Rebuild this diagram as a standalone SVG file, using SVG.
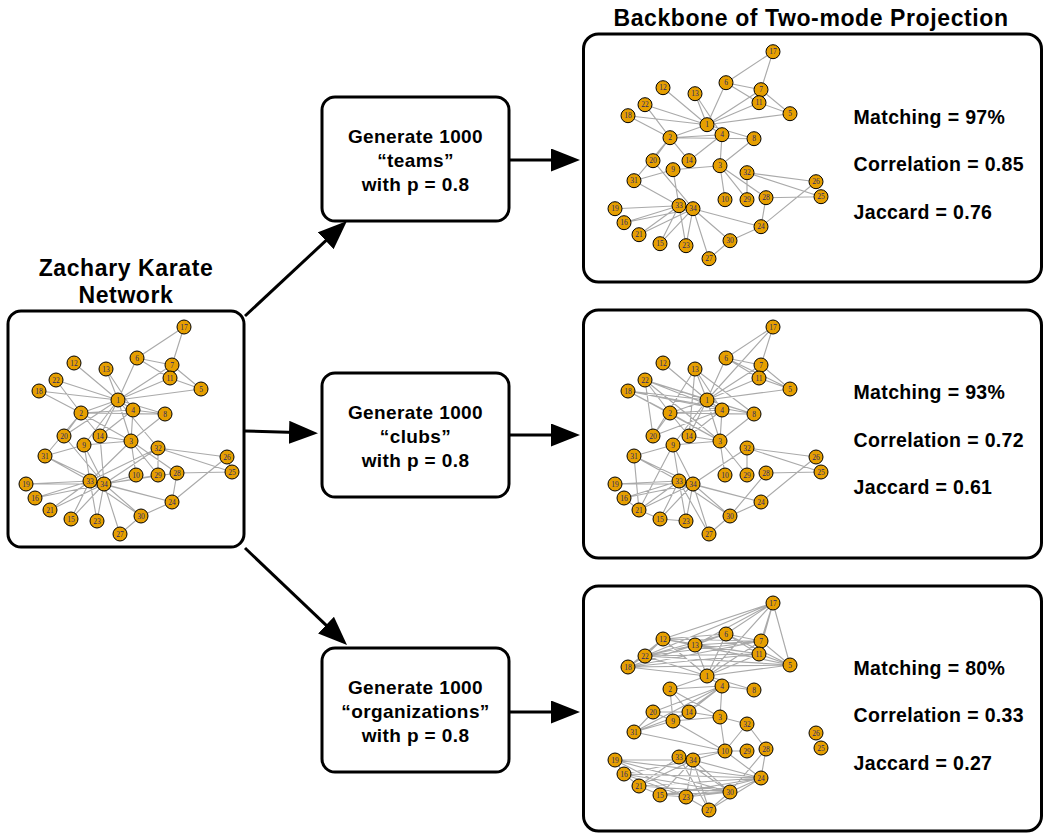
<svg xmlns="http://www.w3.org/2000/svg" width="1044" height="834" viewBox="0 0 1044 834">
<defs>
<style>
.box{fill:#fff;stroke:#000;stroke-width:3}
.e{fill:none;stroke:#aaaaaa;stroke-width:1.15}
.ar{fill:none;stroke:#000;stroke-width:3;marker-end:url(#ah)}
.n circle{fill:#E69F00;stroke:#000;stroke-width:1}
.n text{font-family:"Liberation Serif","Times New Roman",serif;font-size:7.5px;fill:#27276a;text-anchor:middle}
.t{font-family:"Liberation Sans",Arial,Helvetica,sans-serif;font-weight:bold;fill:#000}
.h{font-size:23px;letter-spacing:0.6px;text-anchor:middle}
.g{font-size:19px;letter-spacing:0.4px;text-anchor:middle}
.m{font-size:19.5px;letter-spacing:0.35px}
</style>
<marker id="ah" markerUnits="userSpaceOnUse" markerWidth="29" markerHeight="23" refX="24" refY="11.5" orient="auto">
<path d="M0,0 L29,11.5 L0,23 z" fill="#000"/>
</marker>
</defs>
<rect width="1044" height="834" fill="#fff"/>

<!-- titles -->
<text class="t h" x="126" y="276">Zachary Karate</text>
<text class="t h" x="126" y="303">Network</text>
<text class="t h" x="811" y="26">Backbone of Two-mode Projection</text>

<!-- boxes -->
<g id="box-karate"><rect class="box" x="8" y="311" width="236" height="236" rx="13"/></g>
<g id="box-teams"><rect class="box" x="322" y="97" width="187" height="124" rx="13"/>
<text class="t g" x="415.5" y="143">Generate 1000</text>
<text class="t g" x="415.5" y="167">“teams”</text>
<text class="t g" x="415.5" y="191">with p = 0.8</text></g>
<g id="box-clubs"><rect class="box" x="322" y="373" width="187" height="124" rx="13"/>
<text class="t g" x="415.5" y="419">Generate 1000</text>
<text class="t g" x="415.5" y="443">“clubs”</text>
<text class="t g" x="415.5" y="467">with p = 0.8</text></g>
<g id="box-orgs"><rect class="box" x="322" y="648" width="187" height="124" rx="13"/>
<text class="t g" x="415.5" y="694">Generate 1000</text>
<text class="t g" x="415.5" y="718">“organizations”</text>
<text class="t g" x="415.5" y="742">with p = 0.8</text></g>
<g id="box-res-teams"><rect class="box" x="583.5" y="34" width="458" height="248" rx="15"/>
<text class="t m" x="853.5" y="123.5">Matching = 97%</text>
<text class="t m" x="853.5" y="171">Correlation = 0.85</text>
<text class="t m" x="853.5" y="218.5">Jaccard = 0.76</text></g>
<g id="box-res-clubs"><rect class="box" x="583.5" y="310" width="458" height="248" rx="15"/>
<text class="t m" x="853.5" y="399">Matching = 93%</text>
<text class="t m" x="853.5" y="446.5">Correlation = 0.72</text>
<text class="t m" x="853.5" y="494">Jaccard = 0.61</text></g>
<g id="box-res-orgs"><rect class="box" x="583.5" y="586" width="458" height="245" rx="15"/>
<text class="t m" x="853.5" y="674.5">Matching = 80%</text>
<text class="t m" x="853.5" y="722">Correlation = 0.33</text>
<text class="t m" x="853.5" y="769.5">Jaccard = 0.27</text></g>

<g id="connectors">
<path class="ar" d="M245 316 L343.3 224.4"/>
<path class="ar" d="M245 431 L313 433"/>
<path class="ar" d="M245 548 L343.4 641.6"/>
<path class="ar" d="M509 160 L575 160"/>
<path class="ar" d="M509 435 L575 435"/>
<path class="ar" d="M509 712 L575 712"/>
<path id="edges-karate" class="e" d="M118 400L81 413M118 400L131 441M118 400L133 410M118 400L201 389M118 400L137 358M118 400L172 365M118 400L165 414M118 400L84 445M118 400L170 378M118 400L74 363M118 400L106 369M118 400L100 436M118 400L39 391M118 400L64 436M118 400L56 380M118 400L158 448M81 413L131 441M81 413L133 410M81 413L165 414M81 413L100 436M81 413L39 391M81 413L64 436M81 413L56 380M81 413L45 456M131 441L133 410M131 441L165 414M131 441L84 445M131 441L136 475M131 441L100 436M131 441L177 473M131 441L158 475M131 441L90 481M133 410L165 414M133 410L106 369M133 410L100 436M201 389L172 365M201 389L170 378M137 358L172 365M137 358L170 378M137 358L184 327M172 365L184 327M84 445L45 456M84 445L90 481M84 445L104 484M136 475L104 484M100 436L104 484M71 519L90 481M71 519L104 484M35 498L90 481M35 498L104 484M26 484L90 481M26 484L104 484M64 436L104 484M50 510L90 481M50 510L104 484M97 521L90 481M97 521L104 484M172 502L227 457M172 502L177 473M172 502L141 516M172 502L90 481M172 502L104 484M232 472L227 457M232 472L177 473M232 472L158 448M227 457L158 448M120 534L141 516M120 534L104 484M177 473L104 484M158 475L158 448M158 475L104 484M141 516L90 481M141 516L104 484M45 456L90 481M45 456L104 484M158 448L90 481M158 448L104 484M90 481L104 484"/>
<path id="edges-teams" class="e" transform="translate(589,-275.3)" d="M184 327L137 358M184 327L172 365M137 358L172 365M137 358L170 378M137 358L118 400M172 365L201 389M170 378L201 389M118 400L172 365M118 400L170 378M118 400L201 389M118 400L74 363M118 400L106 369M133 410L106 369M118 400L56 380M81 413L56 380M118 400L39 391M81 413L39 391M118 400L81 413M118 400L133 410M118 400L165 414M81 413L133 410M81 413L165 414M81 413L100 436M81 413L64 436M81 413L45 456M133 410L100 436M131 441L133 410M131 441L165 414M131 441L84 445M84 445L45 456M84 445L90 481M64 436L104 484M45 456L90 481M131 441L136 475M131 441L158 475M131 441L177 473M158 448L227 457M158 448L232 472M158 448L158 475M177 473L232 472M172 502L177 473M172 502L227 457M26 484L90 481M35 498L90 481M50 510L90 481M71 519L90 481M97 521L90 481M35 498L104 484M50 510L104 484M71 519L104 484M97 521L104 484M120 534L104 484M141 516L104 484M172 502L104 484M172 502L141 516M120 534L141 516M90 481L104 484"/>
<path id="edges-clubs" class="e" transform="translate(589,0)" d="M184 327L137 358M184 327L118 400M184 327L172 365M137 358L172 365M137 358L170 378M137 358L201 389M137 358L118 400M172 365L201 389M170 378L201 389M118 400L170 378M118 400L172 365M118 400L201 389M118 400L74 363M118 400L106 369M106 369L133 410M106 369L165 414M106 369L100 436M106 369L64 436M56 380L118 400M56 380L133 410M56 380L165 414M56 380L81 413M56 380L131 441M56 380L64 436M39 391L118 400M39 391L133 410M39 391L165 414M39 391L81 413M39 391L131 441M81 413L133 410M81 413L165 414M81 413L131 441M81 413L100 436M81 413L64 436M118 400L81 413M64 436L133 410M100 436L133 410M100 436L118 400M100 436L131 441M84 445L131 441M84 445L45 456M84 445L90 481M84 445L104 484M84 445L50 510M84 445L118 400M131 441L133 410M131 441L165 414M131 441L136 475M131 441L158 475M118 400L131 441M118 400L133 410M118 400L165 414M45 456L50 510M45 456L90 481M45 456L104 484M158 448L104 484M158 448L227 457M158 448L232 472M158 448L158 475M177 473L232 472M177 473L141 516M172 502L227 457M172 502L141 516M172 502L104 484M141 516L120 534M141 516L104 484M141 516L90 481M120 534L104 484M120 534L90 481M90 481L26 484M90 481L35 498M90 481L50 510M90 481L71 519M90 481L97 521M104 484L26 484M104 484L35 498M104 484L50 510M104 484L71 519M104 484L97 521M90 481L172 502M50 510L71 519M71 519L97 521M35 498L50 510M90 481L104 484"/>
<path id="edges-orgs" class="e" transform="translate(589,276)" d="M118 400L201 389M118 400L137 358M118 400L172 365M118 400L170 378M118 400L74 363M118 400L106 369M118 400L184 327M118 400L39 391M118 400L56 380M201 389L137 358M201 389L172 365M201 389L170 378M201 389L74 363M201 389L106 369M201 389L184 327M201 389L39 391M201 389L56 380M137 358L172 365M137 358L170 378M137 358L74 363M137 358L106 369M137 358L184 327M137 358L39 391M137 358L56 380M172 365L170 378M172 365L74 363M172 365L106 369M172 365L184 327M172 365L39 391M172 365L56 380M170 378L74 363M170 378L106 369M170 378L184 327M170 378L39 391M170 378L56 380M74 363L106 369M74 363L184 327M74 363L39 391M74 363L56 380M106 369L184 327M106 369L39 391M106 369L56 380M184 327L56 380M39 391L56 380M118 400L81 413M118 400L133 410M118 400L165 414M133 410L165 414M81 413L133 410M81 413L131 441M81 413L84 445M81 413L100 436M133 410L64 436M133 410L100 436M133 410L84 445M133 410L45 456M133 410L131 441M64 436L100 436M64 436L84 445M64 436L45 456M84 445L100 436M84 445L45 456M100 436L45 456M131 441L100 436M131 441L84 445M131 441L136 475M131 441L158 448M84 445L136 475M45 456L136 475M158 448L136 475M158 448L177 473M136 475L158 475M136 475L172 502M177 473L172 502M177 473L141 516M26 484L35 498M26 484L104 484M26 484L172 502M26 484L141 516M35 498L172 502M35 498L141 516M35 498L97 521M35 498L104 484M50 510L172 502M50 510L141 516M50 510L104 484M50 510L90 481M71 519L97 521M71 519L141 516M71 519L172 502M71 519L104 484M97 521L141 516M97 521L120 534M97 521L172 502M120 534L104 484M120 534L90 481M120 534L141 516M120 534L172 502M90 481L104 484M90 481L136 475M104 484L136 475M104 484L141 516M104 484L172 502M104 484L97 521M141 516L172 502M26 484L97 521M50 510L71 519M35 498L50 510M90 481L141 516"/>
</g>

<g id="net-karate">
<g id="L1" class="n"><circle cx="118" cy="400" r="7"/><text x="118" y="402.6">1</text></g>
<g id="L2" class="n"><circle cx="81" cy="413" r="7"/><text x="81" y="415.6">2</text></g>
<g id="L3" class="n"><circle cx="131" cy="441" r="7"/><text x="131" y="443.6">3</text></g>
<g id="L4" class="n"><circle cx="133" cy="410" r="7"/><text x="133" y="412.6">4</text></g>
<g id="L5" class="n"><circle cx="201" cy="389" r="7"/><text x="201" y="391.6">5</text></g>
<g id="L6" class="n"><circle cx="137" cy="358" r="7"/><text x="137" y="360.6">6</text></g>
<g id="L7" class="n"><circle cx="172" cy="365" r="7"/><text x="172" y="367.6">7</text></g>
<g id="L8" class="n"><circle cx="165" cy="414" r="7"/><text x="165" y="416.6">8</text></g>
<g id="L9" class="n"><circle cx="84" cy="445" r="7"/><text x="84" y="447.6">9</text></g>
<g id="L10" class="n"><circle cx="136" cy="475" r="7"/><text x="136" y="477.6">10</text></g>
<g id="L11" class="n"><circle cx="170" cy="378" r="7"/><text x="170" y="380.6">11</text></g>
<g id="L12" class="n"><circle cx="74" cy="363" r="7"/><text x="74" y="365.6">12</text></g>
<g id="L13" class="n"><circle cx="106" cy="369" r="7"/><text x="106" y="371.6">13</text></g>
<g id="L14" class="n"><circle cx="100" cy="436" r="7"/><text x="100" y="438.6">14</text></g>
<g id="L15" class="n"><circle cx="71" cy="519" r="7"/><text x="71" y="521.6">15</text></g>
<g id="L16" class="n"><circle cx="35" cy="498" r="7"/><text x="35" y="500.6">16</text></g>
<g id="L17" class="n"><circle cx="184" cy="327" r="7"/><text x="184" y="329.6">17</text></g>
<g id="L18" class="n"><circle cx="39" cy="391" r="7"/><text x="39" y="393.6">18</text></g>
<g id="L19" class="n"><circle cx="26" cy="484" r="7"/><text x="26" y="486.6">19</text></g>
<g id="L20" class="n"><circle cx="64" cy="436" r="7"/><text x="64" y="438.6">20</text></g>
<g id="L21" class="n"><circle cx="50" cy="510" r="7"/><text x="50" y="512.6">21</text></g>
<g id="L22" class="n"><circle cx="56" cy="380" r="7"/><text x="56" y="382.6">22</text></g>
<g id="L23" class="n"><circle cx="97" cy="521" r="7"/><text x="97" y="523.6">23</text></g>
<g id="L24" class="n"><circle cx="172" cy="502" r="7"/><text x="172" y="504.6">24</text></g>
<g id="L25" class="n"><circle cx="232" cy="472" r="7"/><text x="232" y="474.6">25</text></g>
<g id="L26" class="n"><circle cx="227" cy="457" r="7"/><text x="227" y="459.6">26</text></g>
<g id="L27" class="n"><circle cx="120" cy="534" r="7"/><text x="120" y="536.6">27</text></g>
<g id="L28" class="n"><circle cx="177" cy="473" r="7"/><text x="177" y="475.6">28</text></g>
<g id="L29" class="n"><circle cx="158" cy="475" r="7"/><text x="158" y="477.6">29</text></g>
<g id="L30" class="n"><circle cx="141" cy="516" r="7"/><text x="141" y="518.6">30</text></g>
<g id="L31" class="n"><circle cx="45" cy="456" r="7"/><text x="45" y="458.6">31</text></g>
<g id="L32" class="n"><circle cx="158" cy="448" r="7"/><text x="158" y="450.6">32</text></g>
<g id="L33" class="n"><circle cx="90" cy="481" r="7"/><text x="90" y="483.6">33</text></g>
<g id="L34" class="n"><circle cx="104" cy="484" r="7"/><text x="104" y="486.6">34</text></g>
</g>

<g id="net-teams" transform="translate(589,-275.3)">
<g id="T1" class="n"><circle cx="118" cy="400" r="7"/><text x="118" y="402.6">1</text></g>
<g id="T2" class="n"><circle cx="81" cy="413" r="7"/><text x="81" y="415.6">2</text></g>
<g id="T3" class="n"><circle cx="131" cy="441" r="7"/><text x="131" y="443.6">3</text></g>
<g id="T4" class="n"><circle cx="133" cy="410" r="7"/><text x="133" y="412.6">4</text></g>
<g id="T5" class="n"><circle cx="201" cy="389" r="7"/><text x="201" y="391.6">5</text></g>
<g id="T6" class="n"><circle cx="137" cy="358" r="7"/><text x="137" y="360.6">6</text></g>
<g id="T7" class="n"><circle cx="172" cy="365" r="7"/><text x="172" y="367.6">7</text></g>
<g id="T8" class="n"><circle cx="165" cy="414" r="7"/><text x="165" y="416.6">8</text></g>
<g id="T9" class="n"><circle cx="84" cy="445" r="7"/><text x="84" y="447.6">9</text></g>
<g id="T10" class="n"><circle cx="136" cy="475" r="7"/><text x="136" y="477.6">10</text></g>
<g id="T11" class="n"><circle cx="170" cy="378" r="7"/><text x="170" y="380.6">11</text></g>
<g id="T12" class="n"><circle cx="74" cy="363" r="7"/><text x="74" y="365.6">12</text></g>
<g id="T13" class="n"><circle cx="106" cy="369" r="7"/><text x="106" y="371.6">13</text></g>
<g id="T14" class="n"><circle cx="100" cy="436" r="7"/><text x="100" y="438.6">14</text></g>
<g id="T15" class="n"><circle cx="71" cy="519" r="7"/><text x="71" y="521.6">15</text></g>
<g id="T16" class="n"><circle cx="35" cy="498" r="7"/><text x="35" y="500.6">16</text></g>
<g id="T17" class="n"><circle cx="184" cy="327" r="7"/><text x="184" y="329.6">17</text></g>
<g id="T18" class="n"><circle cx="39" cy="391" r="7"/><text x="39" y="393.6">18</text></g>
<g id="T19" class="n"><circle cx="26" cy="484" r="7"/><text x="26" y="486.6">19</text></g>
<g id="T20" class="n"><circle cx="64" cy="436" r="7"/><text x="64" y="438.6">20</text></g>
<g id="T21" class="n"><circle cx="50" cy="510" r="7"/><text x="50" y="512.6">21</text></g>
<g id="T22" class="n"><circle cx="56" cy="380" r="7"/><text x="56" y="382.6">22</text></g>
<g id="T23" class="n"><circle cx="97" cy="521" r="7"/><text x="97" y="523.6">23</text></g>
<g id="T24" class="n"><circle cx="172" cy="502" r="7"/><text x="172" y="504.6">24</text></g>
<g id="T25" class="n"><circle cx="232" cy="472" r="7"/><text x="232" y="474.6">25</text></g>
<g id="T26" class="n"><circle cx="227" cy="457" r="7"/><text x="227" y="459.6">26</text></g>
<g id="T27" class="n"><circle cx="120" cy="534" r="7"/><text x="120" y="536.6">27</text></g>
<g id="T28" class="n"><circle cx="177" cy="473" r="7"/><text x="177" y="475.6">28</text></g>
<g id="T29" class="n"><circle cx="158" cy="475" r="7"/><text x="158" y="477.6">29</text></g>
<g id="T30" class="n"><circle cx="141" cy="516" r="7"/><text x="141" y="518.6">30</text></g>
<g id="T31" class="n"><circle cx="45" cy="456" r="7"/><text x="45" y="458.6">31</text></g>
<g id="T32" class="n"><circle cx="158" cy="448" r="7"/><text x="158" y="450.6">32</text></g>
<g id="T33" class="n"><circle cx="90" cy="481" r="7"/><text x="90" y="483.6">33</text></g>
<g id="T34" class="n"><circle cx="104" cy="484" r="7"/><text x="104" y="486.6">34</text></g>
</g>

<g id="net-clubs" transform="translate(589,0)">
<g id="C1" class="n"><circle cx="118" cy="400" r="7"/><text x="118" y="402.6">1</text></g>
<g id="C2" class="n"><circle cx="81" cy="413" r="7"/><text x="81" y="415.6">2</text></g>
<g id="C3" class="n"><circle cx="131" cy="441" r="7"/><text x="131" y="443.6">3</text></g>
<g id="C4" class="n"><circle cx="133" cy="410" r="7"/><text x="133" y="412.6">4</text></g>
<g id="C5" class="n"><circle cx="201" cy="389" r="7"/><text x="201" y="391.6">5</text></g>
<g id="C6" class="n"><circle cx="137" cy="358" r="7"/><text x="137" y="360.6">6</text></g>
<g id="C7" class="n"><circle cx="172" cy="365" r="7"/><text x="172" y="367.6">7</text></g>
<g id="C8" class="n"><circle cx="165" cy="414" r="7"/><text x="165" y="416.6">8</text></g>
<g id="C9" class="n"><circle cx="84" cy="445" r="7"/><text x="84" y="447.6">9</text></g>
<g id="C10" class="n"><circle cx="136" cy="475" r="7"/><text x="136" y="477.6">10</text></g>
<g id="C11" class="n"><circle cx="170" cy="378" r="7"/><text x="170" y="380.6">11</text></g>
<g id="C12" class="n"><circle cx="74" cy="363" r="7"/><text x="74" y="365.6">12</text></g>
<g id="C13" class="n"><circle cx="106" cy="369" r="7"/><text x="106" y="371.6">13</text></g>
<g id="C14" class="n"><circle cx="100" cy="436" r="7"/><text x="100" y="438.6">14</text></g>
<g id="C15" class="n"><circle cx="71" cy="519" r="7"/><text x="71" y="521.6">15</text></g>
<g id="C16" class="n"><circle cx="35" cy="498" r="7"/><text x="35" y="500.6">16</text></g>
<g id="C17" class="n"><circle cx="184" cy="327" r="7"/><text x="184" y="329.6">17</text></g>
<g id="C18" class="n"><circle cx="39" cy="391" r="7"/><text x="39" y="393.6">18</text></g>
<g id="C19" class="n"><circle cx="26" cy="484" r="7"/><text x="26" y="486.6">19</text></g>
<g id="C20" class="n"><circle cx="64" cy="436" r="7"/><text x="64" y="438.6">20</text></g>
<g id="C21" class="n"><circle cx="50" cy="510" r="7"/><text x="50" y="512.6">21</text></g>
<g id="C22" class="n"><circle cx="56" cy="380" r="7"/><text x="56" y="382.6">22</text></g>
<g id="C23" class="n"><circle cx="97" cy="521" r="7"/><text x="97" y="523.6">23</text></g>
<g id="C24" class="n"><circle cx="172" cy="502" r="7"/><text x="172" y="504.6">24</text></g>
<g id="C25" class="n"><circle cx="232" cy="472" r="7"/><text x="232" y="474.6">25</text></g>
<g id="C26" class="n"><circle cx="227" cy="457" r="7"/><text x="227" y="459.6">26</text></g>
<g id="C27" class="n"><circle cx="120" cy="534" r="7"/><text x="120" y="536.6">27</text></g>
<g id="C28" class="n"><circle cx="177" cy="473" r="7"/><text x="177" y="475.6">28</text></g>
<g id="C29" class="n"><circle cx="158" cy="475" r="7"/><text x="158" y="477.6">29</text></g>
<g id="C30" class="n"><circle cx="141" cy="516" r="7"/><text x="141" y="518.6">30</text></g>
<g id="C31" class="n"><circle cx="45" cy="456" r="7"/><text x="45" y="458.6">31</text></g>
<g id="C32" class="n"><circle cx="158" cy="448" r="7"/><text x="158" y="450.6">32</text></g>
<g id="C33" class="n"><circle cx="90" cy="481" r="7"/><text x="90" y="483.6">33</text></g>
<g id="C34" class="n"><circle cx="104" cy="484" r="7"/><text x="104" y="486.6">34</text></g>
</g>

<g id="net-orgs" transform="translate(589,276)">
<g id="O1" class="n"><circle cx="118" cy="400" r="7"/><text x="118" y="402.6">1</text></g>
<g id="O2" class="n"><circle cx="81" cy="413" r="7"/><text x="81" y="415.6">2</text></g>
<g id="O3" class="n"><circle cx="131" cy="441" r="7"/><text x="131" y="443.6">3</text></g>
<g id="O4" class="n"><circle cx="133" cy="410" r="7"/><text x="133" y="412.6">4</text></g>
<g id="O5" class="n"><circle cx="201" cy="389" r="7"/><text x="201" y="391.6">5</text></g>
<g id="O6" class="n"><circle cx="137" cy="358" r="7"/><text x="137" y="360.6">6</text></g>
<g id="O7" class="n"><circle cx="172" cy="365" r="7"/><text x="172" y="367.6">7</text></g>
<g id="O8" class="n"><circle cx="165" cy="414" r="7"/><text x="165" y="416.6">8</text></g>
<g id="O9" class="n"><circle cx="84" cy="445" r="7"/><text x="84" y="447.6">9</text></g>
<g id="O10" class="n"><circle cx="136" cy="475" r="7"/><text x="136" y="477.6">10</text></g>
<g id="O11" class="n"><circle cx="170" cy="378" r="7"/><text x="170" y="380.6">11</text></g>
<g id="O12" class="n"><circle cx="74" cy="363" r="7"/><text x="74" y="365.6">12</text></g>
<g id="O13" class="n"><circle cx="106" cy="369" r="7"/><text x="106" y="371.6">13</text></g>
<g id="O14" class="n"><circle cx="100" cy="436" r="7"/><text x="100" y="438.6">14</text></g>
<g id="O15" class="n"><circle cx="71" cy="519" r="7"/><text x="71" y="521.6">15</text></g>
<g id="O16" class="n"><circle cx="35" cy="498" r="7"/><text x="35" y="500.6">16</text></g>
<g id="O17" class="n"><circle cx="184" cy="327" r="7"/><text x="184" y="329.6">17</text></g>
<g id="O18" class="n"><circle cx="39" cy="391" r="7"/><text x="39" y="393.6">18</text></g>
<g id="O19" class="n"><circle cx="26" cy="484" r="7"/><text x="26" y="486.6">19</text></g>
<g id="O20" class="n"><circle cx="64" cy="436" r="7"/><text x="64" y="438.6">20</text></g>
<g id="O21" class="n"><circle cx="50" cy="510" r="7"/><text x="50" y="512.6">21</text></g>
<g id="O22" class="n"><circle cx="56" cy="380" r="7"/><text x="56" y="382.6">22</text></g>
<g id="O23" class="n"><circle cx="97" cy="521" r="7"/><text x="97" y="523.6">23</text></g>
<g id="O24" class="n"><circle cx="172" cy="502" r="7"/><text x="172" y="504.6">24</text></g>
<g id="O25" class="n"><circle cx="232" cy="472" r="7"/><text x="232" y="474.6">25</text></g>
<g id="O26" class="n"><circle cx="227" cy="457" r="7"/><text x="227" y="459.6">26</text></g>
<g id="O27" class="n"><circle cx="120" cy="534" r="7"/><text x="120" y="536.6">27</text></g>
<g id="O28" class="n"><circle cx="177" cy="473" r="7"/><text x="177" y="475.6">28</text></g>
<g id="O29" class="n"><circle cx="158" cy="475" r="7"/><text x="158" y="477.6">29</text></g>
<g id="O30" class="n"><circle cx="141" cy="516" r="7"/><text x="141" y="518.6">30</text></g>
<g id="O31" class="n"><circle cx="45" cy="456" r="7"/><text x="45" y="458.6">31</text></g>
<g id="O32" class="n"><circle cx="158" cy="448" r="7"/><text x="158" y="450.6">32</text></g>
<g id="O33" class="n"><circle cx="90" cy="481" r="7"/><text x="90" y="483.6">33</text></g>
<g id="O34" class="n"><circle cx="104" cy="484" r="7"/><text x="104" y="486.6">34</text></g>
</g>
</svg>
